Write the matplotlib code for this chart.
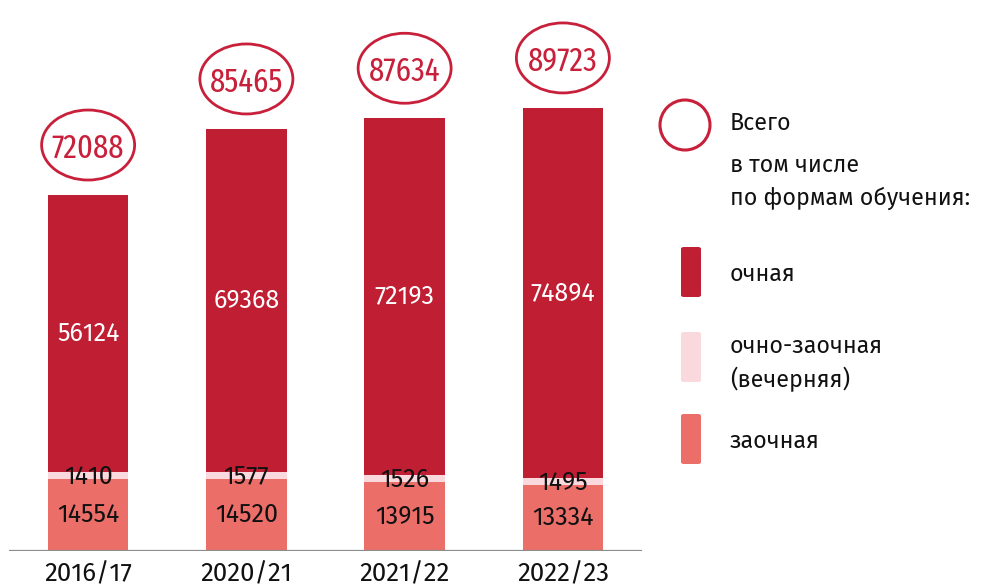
import matplotlib

matplotlib.use("Agg")
import matplotlib.pyplot as plt
from matplotlib.patches import Ellipse, FancyBboxPatch

plt.rcParams["font.family"] = ["Fira Sans", "DejaVu Sans"]

years = ["2016/17", "2020/21", "2021/22", "2022/23"]
zaochnaya = [14554, 14520, 13915, 13334]
vecher = [1410, 1577, 1526, 1495]
ochnaya = [56124, 69368, 72193, 74894]
totals = [72088, 85465, 87634, 89723]

c_dark = "#C01E32"
c_pink = "#FAD9DE"
c_salmon = "#EC6E69"
c_ring = "#C8203A"
c_text = "#111111"

W, H = 982, 588
fig = plt.figure(figsize=(W / 100, H / 100), dpi=100)
# axes spans from x=9px to x=642px, baseline at y=551px
ax = fig.add_axes([9 / W, (H - 551) / H, (642 - 9) / W, 551 / H])
ax.set_xlim(-0.5, 3.5)
ax.set_ylim(0, 111580)
ax.axis("off")
ax.axhline(0, color="#8c8c8c", lw=1.6, zorder=5)

x = list(range(len(years)))
bw = 0.51
bottom2 = [a + b for a, b in zip(zaochnaya, vecher)]
ax.bar(x, zaochnaya, bw, color=c_salmon)
ax.bar(x, vecher, bw, bottom=zaochnaya, color=c_pink)
ax.bar(x, ochnaya, bw, bottom=bottom2, color=c_dark)

for i in x:
    ax.text(i, zaochnaya[i] / 2, f"{zaochnaya[i]}", ha="center", va="center",
            fontsize=18, color=c_text)
    ax.text(i, zaochnaya[i] + vecher[i] / 2 - 300, f"{vecher[i]}",
            ha="center", va="center", fontsize=18, color=c_text)
    ax.text(i, bottom2[i] + ochnaya[i] / 2, f"{ochnaya[i]}", ha="center",
            va="center", fontsize=18, color="white")
    ax.text(i, -4700, years[i], ha="center", va="center", fontsize=18.5,
            color=c_text, clip_on=False)

# total rings: px -> data units
px_x = (642 - 9) / 4.0
px_y = 551 / 111580
for i in x:
    cy = totals[i] + 50 / px_y
    ax.add_patch(Ellipse((i, cy), 93 / px_x, 70 / px_y, fill=False,
                         edgecolor=c_ring, lw=2, clip_on=False))
    ax.text(i, cy, f"{totals[i]}", ha="center", va="center_baseline",
            fontsize=24, color=c_ring,
            family=["Fira Sans Extra Condensed", "DejaVu Sans"])

# legend in figure pixels
fx = lambda v: v / W
fy = lambda v: 1 - v / H
fig.patches.append(Ellipse((fx(685), fy(125)), 50 / W, 50 / H, fill=False,
                           edgecolor=c_ring, lw=2.2,
                           transform=fig.transFigure))
fs = 16.7
tx = fx(730)
fig.text(tx, fy(123), "Всего", va="center", fontsize=fs, color=c_text)
fig.text(tx, fy(165), "в том числе", va="center", fontsize=fs, color=c_text)
fig.text(tx, fy(198), "по формам обучения:", va="center", fontsize=fs,
         color=c_text)

legend_items = [
    (c_dark, 247, ["очная"]),
    (c_pink, 332, ["очно-заочная", "(вечерняя)"]),
    (c_salmon, 414, ["заочная"]),
]
for color, top, lines in legend_items:
    fig.patches.append(FancyBboxPatch(
        (fx(681), fy(top + 50)), 20 / W, 50 / H,
        boxstyle="round,pad=0,rounding_size=0.003", facecolor=color,
        edgecolor="none", transform=fig.transFigure))
    if len(lines) == 1:
        fig.text(tx, fy(top + 27), lines[0], va="center", fontsize=fs,
                 color=c_text)
    else:
        fig.text(tx, fy(top + 14), lines[0], va="center", fontsize=fs,
                 color=c_text)
        fig.text(tx, fy(top + 47), lines[1], va="center", fontsize=fs,
                 color=c_text)

fig.savefig("out.png", dpi=100)
